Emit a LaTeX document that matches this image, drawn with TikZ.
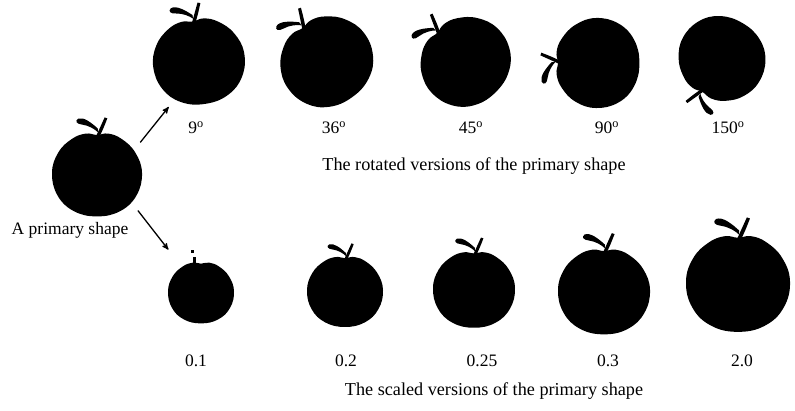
\documentclass[tikz,border=0pt]{standalone}
\usepackage{fontspec}
\setmainfont{Liberation Serif}
\usetikzlibrary{arrows}

\newcommand\applebody{%
  \fill plot[smooth cycle,tension=0.7] coordinates {(0,0.89) (0.25,0.92) (0.55,0.8)
    (0.85,0.5) (1.0,0.05) (0.88,-0.45) (0.52,-0.8) (0,-0.92) (-0.52,-0.8)
    (-0.88,-0.45) (-1.0,0.05) (-0.86,0.5) (-0.56,0.8) (-0.25,0.92)};}

\tikzset{
  apple/.pic={
    \applebody
    % stem
    \fill (-0.03,0.84) .. controls (0.08,1.05) .. (0.17,1.28) -- (0.23,1.26)
      .. controls (0.14,1.03) .. (0.06,0.86) -- cycle;
    % leaf
    \fill (0.02,1.03) .. controls (-0.12,1.16) and (-0.3,1.3) .. (-0.42,1.25)
      .. controls (-0.5,1.2) and (-0.45,1.13) .. (-0.33,1.12)
      .. controls (-0.18,1.1) and (-0.05,1.02) .. (0.02,0.95) -- cycle;
  },
  bare apple/.pic={
    \applebody
    \fill (-0.24,0.86) rectangle (-0.16,1.1);
    \fill (-0.3,1.3) rectangle (-0.2,1.2);
  }
}

\begin{document}
\begin{tikzpicture}[x=1pt,y=1pt,->,>=stealth',
                    spot/.style={circle,inner sep=0pt,minimum size=108pt},
                    caption/.style={font=\fontsize{17.5}{20}\selectfont}]
\useasboundingbox (0,0) rectangle (795,-410);

% the primary shape
\pic[scale=45] at (97,-175) {apple};
\node[spot] (primary) at (97,-175) {};
\node[caption] (primarytext) at (70,-230) {A primary shape};

% rotated row
\pic[rotate=9,scale=46] at (199,-62) {apple};
\pic[rotate=36,scale=47] at (327,-62) {apple};
\pic[rotate=45,scale=46] at (466,-62) {apple};
\pic[rotate=90,scale=45] at (598,-63) {apple};
\pic[rotate=150,scale=44] at (722,-58) {apple};
\node[spot] (rot9) at (199,-62) {};

\node[caption] (deg9) at (196,-128) {9\textsuperscript{o}};
\node[caption] (deg36) at (334,-128) {36\textsuperscript{o}};
\node[caption] (deg45) at (471,-128) {45\textsuperscript{o}};
\node[caption] (deg90) at (607,-128) {90\textsuperscript{o}};
\node[caption] (deg150) at (728,-128) {150\textsuperscript{o}};
\node[caption,font=\fontsize{18.2}{20}\selectfont] (rotated) at (474,-166)
  {The rotated versions of the primary shape};

% scaled row
\pic[scale=33] at (201,-293) {bare apple};
\pic[scale=38] at (345,-292) {apple};
\pic[scale=41] at (474,-290) {apple};
\pic[scale=46] at (604,-292) {apple};
\pic[scale=52] at (738,-284) {apple};
\node[spot] (sc1) at (201,-293) {};

\node[caption] (f1) at (196,-361) {0.1};
\node[caption] (f2) at (346,-361) {0.2};
\node[caption] (f25) at (482,-361) {0.25};
\node[caption] (f3) at (608,-361) {0.3};
\node[caption] (f20) at (742,-361) {2.0};
\node[caption,font=\fontsize{18.2}{20}\selectfont] (scaled) at (494,-391)
  {The scaled versions of the primary shape};

\draw[line width=1.3pt] (primary.37) -- (rot9.236);
\draw[line width=1.3pt] (primary.-41) -- (sc1.127);
\end{tikzpicture}
\end{document}
